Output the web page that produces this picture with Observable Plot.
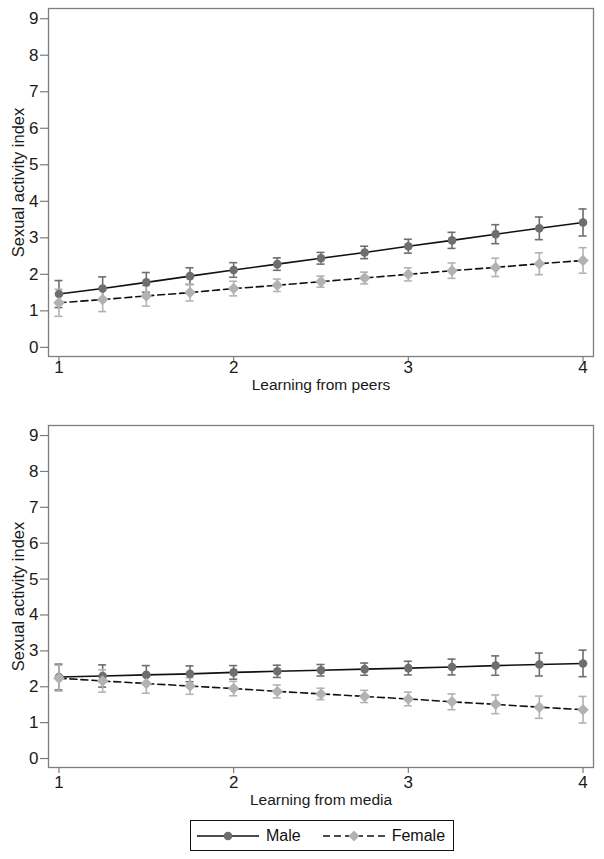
<!DOCTYPE html>
<html>
<head>
<meta charset="utf-8">
<script src="https://cdn.jsdelivr.net/npm/d3@7"></script>
<script src="https://cdn.jsdelivr.net/npm/@observablehq/plot@0.6"></script>
<style>
  body { margin: 0; background: white; font-family: "Liberation Sans", Arial, sans-serif; }
  #wrap { width: 604px; position: relative; height: 859px; }
  #wrap > svg { display: block; }
  #legend { position: absolute; left: 190px; top: 820px; width: 262px; height: 29px; border: 1px solid #111;
            display: flex; align-items: center; font-size: 16px; color: #111; box-sizing: content-box; }
  #legend span { margin-left: 7px; }
  #legend svg { display: block; }
</style>
</head>
<body>
<div id="wrap"></div>
<script>
const xValues = [1, 1.25, 1.5, 1.75, 2, 2.25, 2.5, 2.75, 3, 3.25, 3.5, 3.75, 4];
const xTicks = [1, 2, 3, 4];
const yTicks = [0, 1, 2, 3, 4, 5, 6, 7, 8, 9];
const seriesNames = ["Male", "Female"];
const yLabel = "Sexual activity index";

// Panel 1: Learning from peers
const peersMale    = [1.46, 1.61, 1.78, 1.95, 2.12, 2.28, 2.44, 2.60, 2.77, 2.93, 3.10, 3.26, 3.42];
const peersMaleLo  = [1.09, 1.29, 1.51, 1.72, 1.92, 2.11, 2.28, 2.43, 2.58, 2.71, 2.84, 2.95, 3.05];
const peersMaleHi  = [1.83, 1.93, 2.05, 2.18, 2.32, 2.45, 2.60, 2.77, 2.96, 3.15, 3.36, 3.57, 3.79];
const peersFemale   = [1.22, 1.31, 1.41, 1.50, 1.61, 1.70, 1.80, 1.90, 2.00, 2.10, 2.19, 2.29, 2.38];
const peersFemaleLo = [0.85, 0.98, 1.13, 1.27, 1.41, 1.53, 1.65, 1.74, 1.82, 1.89, 1.94, 1.99, 2.03];
const peersFemaleHi = [1.59, 1.64, 1.69, 1.73, 1.81, 1.87, 1.95, 2.06, 2.18, 2.31, 2.44, 2.59, 2.73];

// Panel 2: Learning from media
const mediaMale    = [2.27, 2.30, 2.33, 2.36, 2.40, 2.43, 2.46, 2.49, 2.52, 2.55, 2.59, 2.62, 2.65];
const mediaMaleLo  = [1.91, 1.99, 2.07, 2.14, 2.21, 2.26, 2.30, 2.32, 2.33, 2.33, 2.32, 2.30, 2.28];
const mediaMaleHi  = [2.63, 2.61, 2.59, 2.58, 2.59, 2.60, 2.62, 2.66, 2.71, 2.77, 2.86, 2.94, 3.02];
const mediaFemale   = [2.24, 2.16, 2.09, 2.02, 1.95, 1.87, 1.80, 1.73, 1.66, 1.58, 1.51, 1.43, 1.36];
const mediaFemaleLo = [1.88, 1.85, 1.82, 1.79, 1.75, 1.69, 1.64, 1.56, 1.47, 1.36, 1.25, 1.12, 0.99];
const mediaFemaleHi = [2.60, 2.47, 2.36, 2.25, 2.15, 2.05, 1.96, 1.90, 1.85, 1.80, 1.77, 1.74, 1.73];

const maleColor = "#6e6e6e";
const femaleColor = "#b2b2b2";
const frameColor = "#7d7d7d";
const FONT = "'Liberation Sans', Arial, sans-serif";
const INK = "#1a1a1a";

function rowsOf(v, lo, hi) {
  return xValues.map((x, i) => ({x, y: v[i], lo: lo[i], hi: hi[i]}));
}

function errorMarks(rows, color) {
  return [
    Plot.ruleX(rows, {x: "x", y1: "lo", y2: "hi", stroke: color, strokeWidth: 1.6}),
    Plot.ruleY(rows, {y: "lo", x1: "x", x2: "x", insetLeft: -4, insetRight: -4, stroke: color, strokeWidth: 1.6}),
    Plot.ruleY(rows, {y: "hi", x1: "x", x2: "x", insetLeft: -4, insetRight: -4, stroke: color, strokeWidth: 1.6})
  ];
}

function panel({male, maleLo, maleHi, female, femaleLo, femaleHi, xLabel, height, marginTop, marginBottom, labelDy, tickDy}) {
  const m = rowsOf(male, maleLo, maleHi);
  const f = rowsOf(female, femaleLo, femaleHi);
  return Plot.plot({
    width: 604,
    height,
    marginLeft: 48,
    marginRight: 11,
    marginTop,
    marginBottom,
    style: {fontFamily: FONT, fontSize: "16px", color: INK, background: "white"},
    x: {domain: [0.94, 4.06]},
    y: {domain: [-0.25, 9.28]},
    marks: [
      Plot.frame({stroke: frameColor, strokeWidth: 1.3}),
      Plot.axisY({ticks: yTicks, tickSize: 8, stroke: frameColor, strokeWidth: 1.2, label: null, text: null}),
      Plot.axisX({ticks: xTicks, tickSize: 6, stroke: frameColor, strokeWidth: 1.2, label: null, text: null}),
      Plot.text(yTicks, {y: d => d, frameAnchor: "left", textAnchor: "end", dx: -10, text: d => String(d),
                         fontSize: 17, fontFamily: FONT, fill: INK}),
      Plot.text(xTicks, {x: d => d, frameAnchor: "bottom", textAnchor: "middle", dy: tickDy, text: d => String(d),
                         fontSize: 17, fontFamily: FONT, fill: INK}),
      Plot.text([yLabel], {frameAnchor: "left", textAnchor: "middle", dx: -30, rotate: -90, text: d => d,
                           fontSize: 16.5, fontFamily: FONT, fill: INK}),
      Plot.text([xLabel], {frameAnchor: "bottom", textAnchor: "middle", dy: labelDy, text: d => d,
                           fontSize: 15.5, fontFamily: FONT, fill: INK}),
      ...errorMarks(m, maleColor),
      ...errorMarks(f, femaleColor),
      Plot.line(m, {x: "x", y: "y", stroke: "#111", strokeWidth: 1.6}),
      Plot.line(f, {x: "x", y: "y", stroke: "#111", strokeWidth: 1.6, strokeDasharray: "7,4"}),
      Plot.dot(m, {x: "x", y: "y", r: 4.3, fill: maleColor, stroke: "none"}),
      Plot.dot(f, {x: "x", y: "y", r: 5.2, symbol: "diamond2", fill: femaleColor, stroke: "none"})
    ]
  });
}

const wrap = document.getElementById("wrap");
wrap.appendChild(panel({
  male: peersMale, maleLo: peersMaleLo, maleHi: peersMaleHi,
  female: peersFemale, femaleLo: peersFemaleLo, femaleHi: peersFemaleHi,
  xLabel: "Learning from peers", height: 400, marginTop: 8, marginBottom: 44, labelDy: 33, tickDy: 16
}));
wrap.appendChild(panel({
  male: mediaMale, maleLo: mediaMaleLo, maleHi: mediaMaleHi,
  female: mediaFemale, femaleLo: mediaFemaleLo, femaleHi: mediaFemaleHi,
  xLabel: "Learning from media", height: 415, marginTop: 25, marginBottom: 48, labelDy: 37, tickDy: 20
}));

// Legend (HTML box with small inline SVG swatches)
const legend = document.createElement("div");
legend.id = "legend";
function swatchHTML(color, dashed, isDiamond) {
  const dash = dashed ? ' stroke-dasharray="7,4"' : '';
  const marker = isDiamond
    ? `<path d="M31,1.5L36.5,7L31,12.5L25.5,7Z" fill="${color}"/>`
    : `<circle cx="31" cy="7" r="4.3" fill="${color}"/>`;
  return `<svg width="62" height="14" viewBox="0 0 62 14"><line x1="0" x2="62" y1="7" y2="7" stroke="#111" stroke-width="1.6"${dash}/>${marker}</svg>`;
}
legend.innerHTML =
  `<div style="margin-left:6px">${swatchHTML(maleColor, false, false)}</div><span>${seriesNames[0]}</span>` +
  `<div style="margin-left:22px">${swatchHTML(femaleColor, true, true)}</div><span>${seriesNames[1]}</span>`;
wrap.appendChild(legend);
</script>
</body>
</html>
